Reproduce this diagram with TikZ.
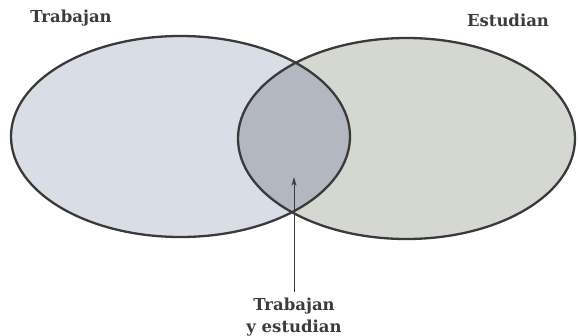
\documentclass[tikz,border=0pt]{standalone}
\usepackage{fontspec}
\setmainfont{DejaVu Serif}
\definecolor{leftfill}{HTML}{D9DDE5}
\definecolor{rightfill}{HTML}{D5D7D1}
\definecolor{midfill}{HTML}{B3B7C0}
\definecolor{edge}{HTML}{3A3A3A}
\definecolor{ink}{HTML}{3C3C3C}
\tikzset{
  set/.style={draw=edge, line width=2.3pt},
  lbl/.style={font=\bfseries\fontsize{16.5}{22}\selectfont, text=ink, inner sep=0pt, align=center},
  pointer/.style={draw=ink, line width=0.9pt, -{Stealth[length=9pt,width=5pt]}}
}
\usetikzlibrary{arrows.meta}
\begin{document}
\begin{tikzpicture}[x=1pt,y=-1pt]
\useasboundingbox (0,0) rectangle (578,335);
\fill[leftfill] (180.5,136.5) ellipse [x radius=169.5, y radius=100.5];
\fill[rightfill] (406.5,138.5) ellipse [x radius=168.5, y radius=100.5];
\begin{scope}
  \clip (180.5,136.5) ellipse [x radius=169.5, y radius=100.5];
  \fill[midfill] (406.5,138.5) ellipse [x radius=168.5, y radius=100.5];
\end{scope}
\draw[set] (180.5,136.5) ellipse [x radius=169.5, y radius=100.5];
\draw[set] (406.5,138.5) ellipse [x radius=168.5, y radius=100.5];
\node[lbl] (trab) at (71,18) {Trabajan};
\node[lbl] (estu) at (508,20) {Estudian};
\node[lbl, align=center] (both) at (294,317) {Trabajan\\y estudian};
\coordinate (tip) at (294,177);
\draw[pointer] (both.north -| tip) ++(0,-6) coordinate (tail) -- (tip);
\end{tikzpicture}
\end{document}
